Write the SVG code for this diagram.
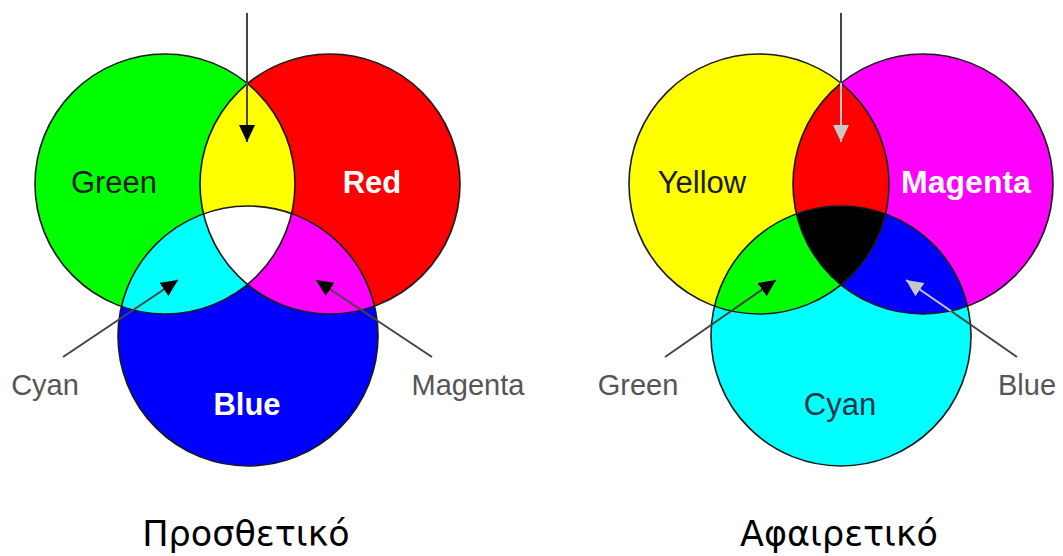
<svg xmlns="http://www.w3.org/2000/svg" width="1063" height="556" viewBox="0 0 1063 556">
<style>
.ring{fill:none;stroke:#1a1a1a;stroke-width:1.6}
.lbl{font-family:"Liberation Sans",Arial,sans-serif;text-anchor:middle}
.side{font-size:29px;fill:#555}
.big{font-size:31px}
.bold{font-weight:bold;fill:#fff}
.cap{font-family:"DejaVu Sans",sans-serif;font-size:35px;fill:#000;text-anchor:middle}
.ln{stroke:#444;stroke-width:2;fill:none}
.lt{stroke:#c8c8c8;stroke-width:2;fill:none}
</style>
<defs>
<clipPath id="cG"><circle cx="165" cy="184" r="130"/></clipPath>
<clipPath id="cR"><circle cx="330" cy="184" r="130"/></clipPath>
<clipPath id="cY"><circle cx="759" cy="184" r="130"/></clipPath>
<clipPath id="cM"><circle cx="923" cy="184" r="130"/></clipPath>
<marker id="ahB" markerUnits="userSpaceOnUse" markerWidth="18" markerHeight="16" refX="17" refY="8" orient="auto" viewBox="0 0 18 16"><path d="M0,0 L17,8 L0,16 z" fill="#000"/></marker>
<marker id="ahL" markerUnits="userSpaceOnUse" markerWidth="18" markerHeight="16" refX="17" refY="8" orient="auto" viewBox="0 0 18 16"><path d="M0,0 L17,8 L0,16 z" fill="#c8c8c8"/></marker>
</defs>
<rect width="1063" height="556" fill="#fff"/>

<!-- Additive -->
<g id="additive">
<g id="node-green"><circle cx="165" cy="184" r="130" fill="#00ff00"/></g>
<g id="node-red"><circle cx="330" cy="184" r="130" fill="#ff0000"/></g>
<g id="node-blue"><circle cx="248" cy="336" r="130" fill="#0000ff"/></g>
<g id="node-yellow-mix" clip-path="url(#cG)"><circle cx="330" cy="184" r="130" fill="#ffff00"/></g>
<g id="node-cyan-mix" clip-path="url(#cG)"><circle cx="248" cy="336" r="130" fill="#00ffff"/></g>
<g id="node-magenta-mix" clip-path="url(#cR)"><circle cx="248" cy="336" r="130" fill="#ff00ff"/></g>
<g id="node-white-mix" clip-path="url(#cG)"><g clip-path="url(#cR)"><circle cx="248" cy="336" r="130" fill="#ffffff"/></g></g>
<circle class="ring" cx="165" cy="184" r="130"/>
<circle class="ring" cx="330" cy="184" r="130"/>
<circle class="ring" cx="248" cy="336" r="130"/>
</g>

<!-- Subtractive -->
<g id="subtractive">
<g id="node-yellow"><circle cx="759" cy="184" r="130" fill="#ffff00"/></g>
<g id="node-magenta"><circle cx="923" cy="184" r="130" fill="#ff00ff"/></g>
<g id="node-cyan"><circle cx="841" cy="336" r="130" fill="#00ffff"/></g>
<g id="node-red-mix" clip-path="url(#cY)"><circle cx="923" cy="184" r="130" fill="#ff0000"/></g>
<g id="node-green-mix" clip-path="url(#cY)"><circle cx="841" cy="336" r="130" fill="#00ff00"/></g>
<g id="node-blue-mix" clip-path="url(#cM)"><circle cx="841" cy="336" r="130" fill="#0000ff"/></g>
<g id="node-black-mix" clip-path="url(#cY)"><g clip-path="url(#cM)"><circle cx="841" cy="336" r="130" fill="#000000"/></g></g>
<circle class="ring" cx="759" cy="184" r="130"/>
<circle class="ring" cx="923" cy="184" r="130"/>
<circle class="ring" cx="841" cy="336" r="130"/>
</g>

<g id="connectors">
<line class="ln" x1="247" y1="13" x2="247" y2="142" stroke="#333" marker-end="url(#ahB)"/>
<line class="ln" x1="63" y1="357" x2="178" y2="280" marker-end="url(#ahB)"/>
<line class="ln" x1="432" y1="357" x2="316" y2="280" marker-end="url(#ahB)"/>
<line class="ln" x1="841" y1="13" x2="841" y2="83"/>
<line class="lt" x1="841" y1="83" x2="841" y2="142" marker-end="url(#ahL)"/>
<line class="ln" x1="665" y1="357" x2="776" y2="280" marker-end="url(#ahB)"/>
<line class="ln" x1="1017" y1="357" x2="951" y2="311"/>
<line class="lt" x1="951" y1="311" x2="906" y2="280" marker-end="url(#ahL)"/>
</g>

<g id="labels">
<text class="lbl big" x="114" y="193" fill="#1c1c1c">Green</text>
<text class="lbl big bold" x="372" y="193">Red</text>
<text class="lbl big bold" x="247" y="415">Blue</text>
<text class="lbl side" x="45" y="395">Cyan</text>
<text class="lbl side" x="468" y="395">Magenta</text>
<text class="lbl big" x="702" y="193" fill="#1c1c1c">Yellow</text>
<text class="lbl big bold" x="966" y="193" style="font-size:32px">Magenta</text>
<text class="lbl big" x="840" y="415" fill="#1e3446">Cyan</text>
<text class="lbl side" x="638" y="395">Green</text>
<text class="lbl side" x="1027" y="395">Blue</text>
<text class="cap" x="246" y="546">Προσθετικό</text>
<text class="cap" x="839" y="546">Αφαιρετικό</text>
</g>
</svg>
